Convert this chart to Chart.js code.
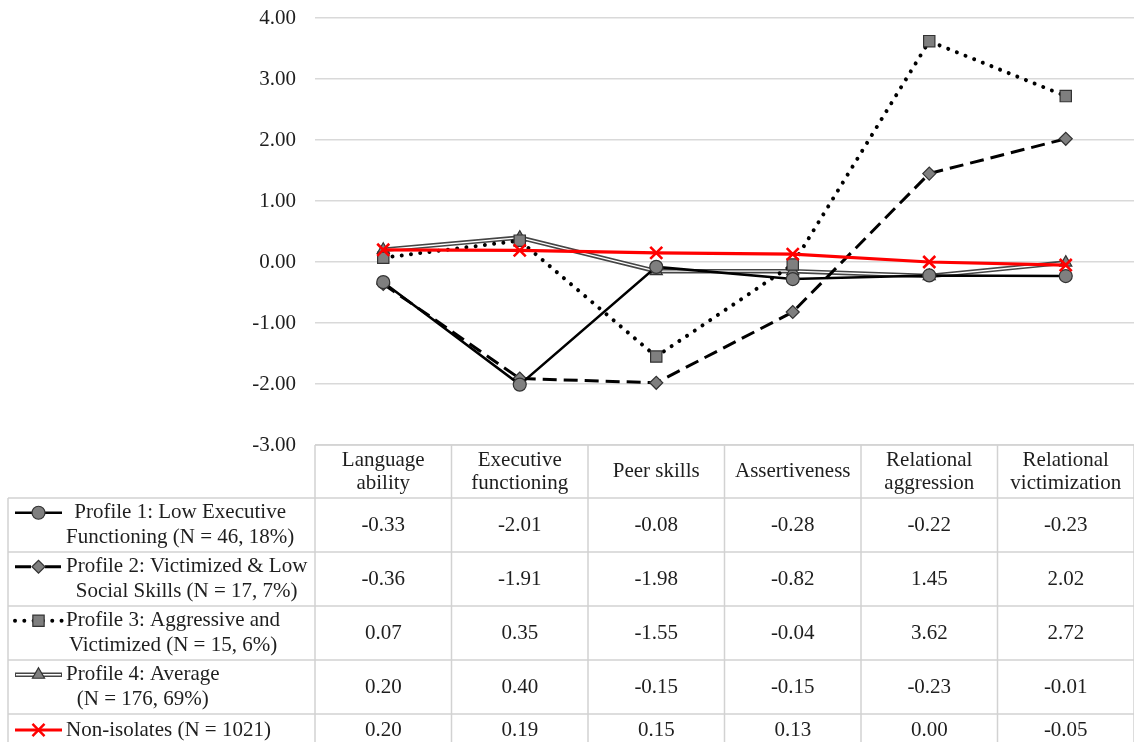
<!DOCTYPE html>
<html>
<head>
<meta charset="utf-8">
<script src="https://cdn.jsdelivr.net/npm/chart.js@4.4.1/dist/chart.umd.min.js"></script>
<style>
  html, body { margin: 0; padding: 0; background: #ffffff; overflow: hidden; }
  #wrap { position: relative; width: 1134px; height: 742px; }
</style>
</head>
<body>
<div id="wrap"><canvas id="c" width="1134" height="742"></canvas></div>
<script>
// Outcome categories (header cells of the data table, split into lines)
const categories = [
  ["Language", "ability"],
  ["Executive", "functioning"],
  ["Peer skills"],
  ["Assertiveness"],
  ["Relational", "aggression"],
  ["Relational", "victimization"]
];

// Standardised means per profile
const profile1 = [-0.33, -2.01, -0.08, -0.28, -0.22, -0.23];
const profile2 = [-0.36, -1.91, -1.98, -0.82, 1.45, 2.02];
const profile3 = [0.07, 0.35, -1.55, -0.04, 3.62, 2.72];
const profile4 = [0.20, 0.40, -0.15, -0.15, -0.23, -0.01];
const nonIsolates = [0.20, 0.19, 0.15, 0.13, 0.00, -0.05];

// Series names as shown in the table's legend column
const seriesNames = [
  ["Profile 1: Low Executive", "Functioning (N = 46, 18%)"],
  ["Profile 2: Victimized & Low", "Social Skills (N = 17, 7%)"],
  ["Profile 3: Aggressive and", "Victimized (N = 15, 6%)"],
  ["Profile 4: Average", "(N = 176, 69%)"],
  ["Non-isolates (N = 1021)"]
];

// Value axis tick values
const yTicks = [4, 3, 2, 1, 0, -1, -2, -3];

const FONT = "'Liberation Serif', 'Times New Roman', serif";
const FONT_SIZE = 21;
const TEXT = '#1e1e1e';
const MARKER_FILL = '#7f7f7f';
const MARKER_EDGE = '#333333';

// Plot rectangle inside the 1134x742 canvas
const PLOT = { left: 315, top: 18, right: 1134, bottom: 445 };

// Line / marker styles, used both for the plotted lines and the table keys
const styles = [
  { color: '#000000', width: 2.5, dash: [], cap: 'butt', point: 'circle', radius: 6.5 },
  { color: '#000000', width: 3, dash: [14, 7], keyDash: [16, 14], cap: 'butt', point: 'rectRot', radius: 6.5 },
  { color: '#000000', width: 4, dash: [0.01, 9.3], cap: 'round', point: 'rect', radius: 8 },
  { color: '#454545', width: 4.5, dash: [], cap: 'butt', point: 'triangle', radius: 7, inner: '#ffffff', innerWidth: 1.4 },
  { color: '#ff0000', width: 3.2, dash: [], cap: 'butt', point: 'crossRot', radius: 8.5 }
];
const seriesData = [profile1, profile2, profile3, profile4, nonIsolates];

const TABLE = {
  left: 8,
  headerTop: 445,
  headerH: 53,
  rowH: 54,
  lastRowH: 30,
  keyX0: 15,
  keyX1: 62,
  textLeft: 66,
  border: '#d2d2d2'
};

function drawKey(ctx, s, y) {
  ctx.save();
  ctx.lineCap = s.cap;
  ctx.setLineDash(s.keyDash || s.dash);
  ctx.strokeStyle = s.color;
  ctx.lineWidth = s.width;
  ctx.beginPath();
  ctx.moveTo(TABLE.keyX0, y);
  ctx.lineTo(TABLE.keyX1, y);
  ctx.stroke();
  if (s.inner) {
    ctx.strokeStyle = s.inner;
    ctx.lineWidth = s.innerWidth;
    ctx.beginPath();
    ctx.moveTo(TABLE.keyX0 + 1, y);
    ctx.lineTo(TABLE.keyX1 - 1, y);
    ctx.stroke();
  }
  ctx.setLineDash([]);
  const cx = (TABLE.keyX0 + TABLE.keyX1) / 2;
  if (s.point === 'crossRot') {
    ctx.strokeStyle = s.color;
    ctx.lineWidth = 2.5;
    Chart.helpers.drawPoint(ctx, { pointStyle: s.point, radius: s.radius, borderWidth: 2.5, rotation: 0 }, cx, y);
  } else {
    ctx.fillStyle = MARKER_FILL;
    ctx.strokeStyle = MARKER_EDGE;
    ctx.lineWidth = 1.2;
    Chart.helpers.drawPoint(ctx, { pointStyle: s.point, radius: s.radius, borderWidth: 1.2, rotation: 0 }, cx, y);
  }
  ctx.restore();
}

// Data table drawn under the plot, columns aligned with the category scale
const dataTablePlugin = {
  id: 'dataTable',
  afterDraw(chart) {
    const ctx = chart.ctx;
    const xs = chart.scales.x;
    const area = chart.chartArea;
    const n = chart.data.labels.length;
    const colW = (area.right - area.left) / n;
    const right = area.right;
    const rowTops = [];
    let y = TABLE.headerTop + TABLE.headerH;
    for (let r = 0; r < seriesData.length; r++) {
      rowTops.push(y);
      y += (r === seriesData.length - 1) ? TABLE.lastRowH : TABLE.rowH;
    }
    const tableBottom = y;

    ctx.save();
    // grid
    ctx.strokeStyle = TABLE.border;
    ctx.lineWidth = 1.5;
    ctx.beginPath();
    ctx.moveTo(area.left, TABLE.headerTop); ctx.lineTo(right, TABLE.headerTop);
    rowTops.forEach(t => { ctx.moveTo(TABLE.left, t); ctx.lineTo(right, t); });
    ctx.moveTo(TABLE.left, tableBottom); ctx.lineTo(right, tableBottom);
    ctx.moveTo(TABLE.left, rowTops[0]); ctx.lineTo(TABLE.left, tableBottom);
    for (let i = 0; i <= n; i++) {
      const gx = area.left + i * colW;
      ctx.moveTo(gx, TABLE.headerTop); ctx.lineTo(gx, tableBottom);
    }
    ctx.stroke();

    ctx.fillStyle = TEXT;
    ctx.font = FONT_SIZE + 'px ' + FONT;
    ctx.textBaseline = 'middle';
    ctx.textAlign = 'center';

    // header
    const hc = TABLE.headerTop + TABLE.headerH / 2;
    chart.data.labels.forEach((lab, i) => {
      const cx = xs.getPixelForValue(i);
      const lines = Array.isArray(lab) ? lab : [lab];
      const lh = 23;
      lines.forEach((ln, k) => {
        ctx.fillText(ln, cx, hc + (k - (lines.length - 1) / 2) * lh);
      });
    });

    // body rows
    seriesData.forEach((vals, r) => {
      const top = rowTops[r];
      const h = (r === seriesData.length - 1) ? TABLE.lastRowH : TABLE.rowH;
      const rc = top + h / 2 + (r === seriesData.length - 1 ? 1 : 0);
      ctx.fillStyle = TEXT;
      ctx.textAlign = 'center';
      vals.forEach((v, i) => {
        ctx.fillText(v.toFixed(2), xs.getPixelForValue(i), rc);
      });
      // legend text: block starts at textLeft, lines centred within the block
      const lines = seriesNames[r];
      const lh = 24.5;
      const blockW = Math.max(...lines.map(l => ctx.measureText(l).width));
      const bc = TABLE.textLeft + blockW / 2;
      lines.forEach((ln, k) => {
        ctx.fillText(ln, bc, rc + (k - (lines.length - 1) / 2) * lh);
      });
      const keyY = rc - ((lines.length - 1) / 2) * lh;
      drawKey(ctx, styles[r], keyY);
    });
    ctx.restore();
  }
};

function lineDataset(i, extra) {
  const s = styles[i];
  return Object.assign({
    label: seriesNames[i].join(' '),
    data: seriesData[i],
    borderColor: s.color,
    borderWidth: s.width,
    borderDash: s.dash,
    borderCapStyle: s.cap,
    tension: 0,
    fill: false,
    pointStyle: s.point,
    pointRadius: s.radius,
    pointHoverRadius: s.radius,
    pointBackgroundColor: MARKER_FILL,
    pointBorderColor: MARKER_EDGE,
    pointBorderWidth: 1.2
  }, extra || {});
}

const datasets = [
  lineDataset(4, { order: 0, pointBackgroundColor: '#ff0000', pointBorderColor: '#ff0000', pointBorderWidth: 2.6 }),
  lineDataset(0, { order: 1 }),
  lineDataset(1, { order: 2 }),
  lineDataset(2, { order: 3 }),
  // Profile 4 is a double line: white core drawn over a dark outer stroke
  lineDataset(3, { order: 4, borderColor: styles[3].inner, borderWidth: styles[3].innerWidth }),
  lineDataset(3, { order: 5, pointRadius: 0, pointHoverRadius: 0 })
];

new Chart(document.getElementById('c'), {
  type: 'line',
  data: { labels: categories, datasets },
  options: {
    responsive: false,
    animation: false,
    devicePixelRatio: 1,
    layout: {
      autoPadding: false,
      padding: {
        top: PLOT.top,
        bottom: 742 - PLOT.bottom,
        left: 0,
        right: 1134 - PLOT.right
      }
    },
    plugins: { legend: { display: false }, tooltip: { enabled: false } },
    scales: {
      x: { type: 'category', display: false, offset: true },
      y: {
        min: Math.min(...yTicks),
        max: Math.max(...yTicks),
        afterFit(scale) {
          scale.width = PLOT.left;
          scale.paddingTop = 0;
          scale.paddingBottom = 0;
        },
        afterBuildTicks(scale) { scale.ticks = yTicks.slice().reverse().map(v => ({ value: v })); },
        border: { display: false },
        grid: { color: '#d9d9d9', lineWidth: 1.5, drawTicks: false },
        ticks: {
          padding: 19,
          color: TEXT,
          font: { family: FONT, size: FONT_SIZE },
          callback: v => Number(v).toFixed(2)
        }
      }
    }
  },
  plugins: [dataTablePlugin]
});
</script>
</body>
</html>
